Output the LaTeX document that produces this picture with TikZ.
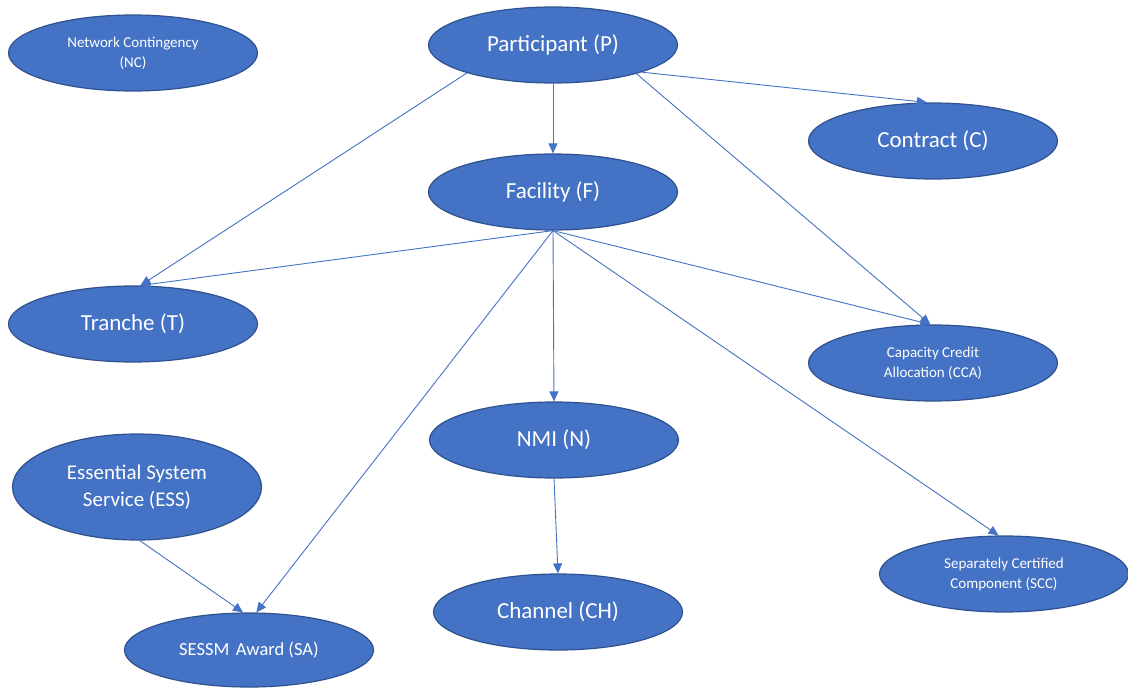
\documentclass[tikz,border=0pt]{standalone}
\usepackage{fontspec}
\setmainfont{Carlito}
\usetikzlibrary{shapes.geometric,arrows.meta}
\definecolor{obl}{HTML}{4472C4}
\definecolor{obd}{HTML}{2F528F}
\begin{document}
\begin{tikzpicture}[x=1pt,y=-1pt,
  ent/.style={ellipse, fill=obl, draw=obd, line width=1.2pt, text=white,
    minimum width=249pt, minimum height=76pt, inner sep=0pt, align=center},
  big/.style={font=\fontsize{23}{28}\selectfont},
  mid/.style={font=\fontsize{21}{27}\selectfont},
  sam/.style={font=\fontsize{18.5}{22}\selectfont},
  small/.style={font=\fontsize{15}{20}\selectfont},
  link/.style={draw=obl, line width=0.9pt, -{Triangle[length=10pt,width=9pt]}}]
\fill[white] (0,0) rectangle (1128,688);
\useasboundingbox (0,0) rectangle (1128,688);

\node[ent, small] (NC)  at (133,53)  {Network Contingency\\(NC)};
\node[ent, big]   (P)   at (553,45)  {Participant (P)};
\node[ent, big]   (C)   at (933,141) {Contract (C)};
\node[ent, big]   (F)   at (553,192) {Facility (F)};
\node[ent, big]   (T)   at (133,324) {Tranche (T)};
\node[ent, small] (CCA) at (933,363) {Capacity Credit\\Allocation (CCA)};
\node[ent, big]   (N)   at (554,440) {NMI (N)};
\node[ent, mid, minimum height=106pt] (ESS) at (137,487) {Essential System\\Service (ESS)};
\node[ent, small] (SCC) at (1004,574) {Separately Certified\\Component (SCC)};
\node[ent, big]   (CH)  at (558,612) {Channel (CH)};
\node[ent, sam, minimum height=74pt] (SA) at (249,650) {SESSM\hspace{0.12em} Award (SA)};

\draw[link] (P.south) -- (F.north);
\draw[link] (P.-17) -- (C.99);
\draw[link] (P.-162) -- (T.79);
\draw[link] (P.-19) -- (CCA.94);
\draw[link] (F.south) -- (T.79);
\draw[link] (F.south) -- (CCA.94);
\draw[link] (F.south) -- (N.north);
\draw[link] (F.south) -- (SA.79);
\draw[link] (F.south) -- (SCC.98);
\draw[link] (N.south) -- (CH.north);
\draw[link] (ESS.-87) -- (SA.99);
\end{tikzpicture}
\end{document}
